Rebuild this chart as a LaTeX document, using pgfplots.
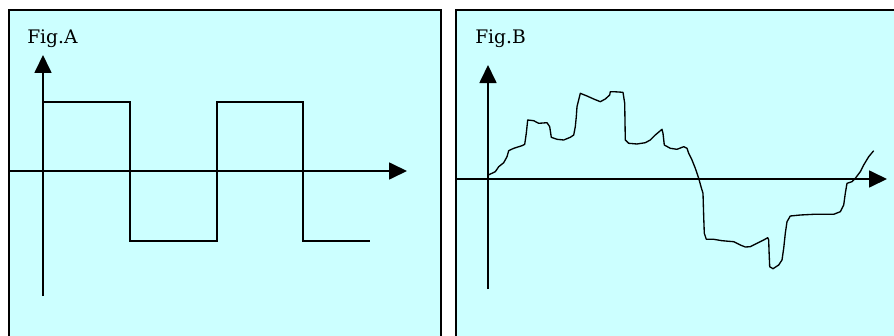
\documentclass[border=0pt]{standalone}
\usepackage{fontspec}
\setmainfont{DejaVu Serif}
\usepackage{pgfplots}
\pgfplotsset{compat=1.18}
\usetikzlibrary{arrows.meta}
\definecolor{bgcyan}{RGB}{204,255,255}
\begin{document}
\begin{tikzpicture}
% picture frame: 894 x 336 px, 1px = 0.75pt, origin top-left
\useasboundingbox (0,0) rectangle (670.5pt,-252pt);
\fill[white] (0,0) rectangle (670.5pt,-252pt);
% panel A
\filldraw[fill=bgcyan, draw=black, line width=1.4pt] (6.75pt,-7.5pt) rectangle (330.75pt,-262pt);
% panel B
\filldraw[fill=bgcyan, draw=black, line width=1.4pt] (342pt,-7.5pt) rectangle (680pt,-262pt);
\node[anchor=base west, inner sep=0pt, font=\fontsize{14}{17}\selectfont] at (20.25pt,-32.25pt) {Fig.A};
\node[anchor=base west, inner sep=0pt, font=\fontsize{14}{17}\selectfont] at (356.25pt,-32.25pt) {Fig.B};

\pgfplotsset{
  panel/.style={
    scale only axis,
    axis lines=middle,
    xtick=\empty, ytick=\empty,
    axis line style={line width=1.3pt},
    inner axis line style={line width=1.3pt, -{Triangle[length=13.5pt,width=12.75pt]}},
  }
}

% Fig.A: origin at pixel (43,171)
\begin{axis}[panel,
  at={(6pt,-222pt)}, anchor=south west,
  width=299.25pt, height=180.75pt,
  xmin=-35, xmax=364, ymin=-125, ymax=116]
\addplot[black, line width=1.1pt, line join=miter] coordinates {
 (0,69) (87,69) (87,-70) (174,-70) (174,69) (260,69) (260,-70) (327,-70)
};
\end{axis}

% Fig.B: origin at pixel (488,179)
\begin{axis}[panel,
  at={(341.25pt,-216.75pt)}, anchor=south west,
  width=324pt, height=168pt,
  xmin=-33, xmax=399, ymin=-110, ymax=114]
\addplot[black, line width=1.0pt, line join=round] coordinates {
 (0.3,4) (7.3,7.3) (10.7,12.3) (15.7,16.3) (19,22.3) (20.7,28.3) (25.7,30.7)
 (34,33.3) (36.7,34.7) (38.3,45.7) (39.7,59) (45.7,58.3) (50.7,55.7) (59,56.3)
 (61.7,52.3) (63.3,41.7) (69,39.7) (75.7,39) (82.3,41.7) (85.7,44) (87.3,52.3)
 (88.3,62.3) (89,72.3) (92.3,85.7) (99,83) (105.7,80) (112.3,77.3) (117.3,80)
 (121.7,84) (122.3,87.3) (125.7,87.3) (135,86.7) (136.7,75.7) (137.3,39)
 (140.7,35.7) (149,35) (157.3,36.3) (162.3,39) (167.3,44) (174,49.7) (175,45.7)
 (176.3,34) (182.3,30.7) (189,29.7) (195.7,32.3) (199,30.7) (200.7,25.7)
 (204,19) (207.3,10.7) (210.7,0.7) (213,-7.7) (215,-14.3) (215.7,-37.7)
 (216.3,-54.3) (218.3,-60.3) (225.7,-60.3) (234,-61.7) (245.7,-62.7)
 (252.3,-66) (257.3,-68) (262.3,-67.7) (269,-64.3) (275.7,-61) (279.7,-58.7)
 (280.7,-61) (281,-71) (281.7,-87.7) (285,-89.7) (290.7,-86) (294,-81)
 (295.7,-69.3) (297.3,-54.3) (299,-42.7) (302.3,-37) (312.3,-36) (325.7,-35.3)
 (345.7,-35.3) (352.3,-32.7) (355.7,-26) (357.3,-14.3) (359,-4.3) (364,-2.7)
 (367.3,0.7) (372.3,7.3) (375.7,14) (380.7,22.3) (385.7,28.3)
};
\end{axis}
\end{tikzpicture}
\end{document}
